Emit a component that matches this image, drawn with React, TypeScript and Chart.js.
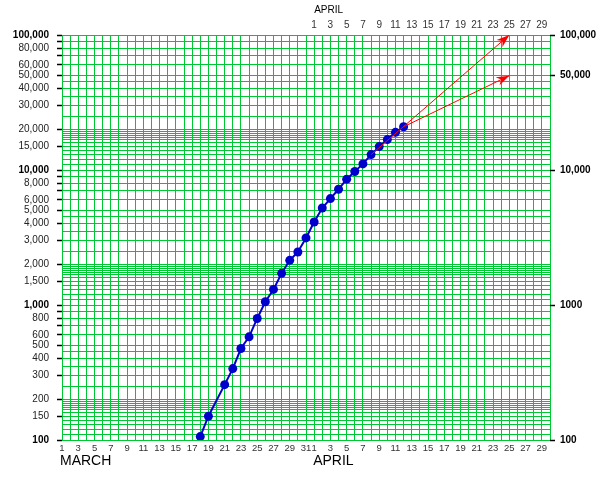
import React, { useEffect, useRef } from 'react';
import { Chart, registerables } from 'chart.js';

Chart.register(...registerables);

// ---- data ----
const marchDataDays = [18, 19, 21, 22, 23, 24, 25, 26, 27, 28, 29, 30, 31];
const marchValues = [106, 150, 257, 338, 476, 581, 795, 1057, 1304, 1715, 2142, 2470, 3140];
const aprilDataDays = [1, 2, 3, 4, 5, 6, 7, 8, 9, 10, 11, 12];
const aprilValues = [4120, 5230, 6140, 7200, 8550, 9750, 11100, 13000, 14900, 16800, 19000, 20900];

// projection arrows (April days / values)
const arrowUpperDays = [8, 25];
const arrowUpperValues = [13000, 100000];
const arrowLowerDays = [12, 25];
const arrowLowerValues = [20900, 50000];

// ---- axis labels ----
const marchTickDays = [1, 3, 5, 7, 9, 11, 13, 15, 17, 19, 21, 23, 25, 27, 29, 31];
const aprilTickDays = [1, 3, 5, 7, 9, 11, 13, 15, 17, 19, 21, 23, 25, 27, 29];
const daysInMarch = 31;
const daysInApril = 30;

const leftTickValues = [100, 150, 200, 300, 400, 500, 600, 700, 800, 900,
  1000, 1500, 2000, 3000, 4000, 5000, 6000, 7000, 8000, 9000,
  10000, 15000, 20000, 30000, 40000, 50000, 60000, 70000, 80000, 90000, 100000];
const leftTickLabels = ['100', '150', '200', '300', '400', '500', '600', '', '800', '',
  '1,000', '1,500', '2,000', '3,000', '4,000', '5,000', '6,000', '', '8,000', '',
  '10,000', '15,000', '20,000', '30,000', '40,000', '50,000', '60,000', '', '80,000', '', '100,000'];
const boldLeftValues = [100, 1000, 10000, 100000];

const rightTickValues = [100, 1000, 10000, 50000, 100000];
const rightTickLabels = ['100', '1000', '10,000', '50,000', '100,000'];

const gridMantissas = [1, 1.1, 1.2, 1.3, 1.4, 1.5, 1.6, 1.67, 1.73, 1.8, 1.87, 1.93,
  2, 2.5, 3, 3.5, 4, 4.5, 5, 6, 7, 8, 9];
const gridDecades = [100, 1000, 10000];
const yMin = 100;
const yMax = 100000;

const marchText = 'MARCH';
const aprilText = 'APRIL';

// ---- derived helpers ----
const aprilX = (d: number) => daysInMarch + d;
const totalDays = daysInMarch + daysInApril;
const allDayPositions: number[] = [];
for (let i = 1; i <= totalDays; i++) allDayPositions.push(i);
const gridValues: number[] = [];
gridDecades.forEach((d) => gridMantissas.forEach((m) => gridValues.push(Math.round(d * m))));
gridValues.push(yMax);

const bottomLabelMap = new Map<number, string>();
marchTickDays.forEach((d) => bottomLabelMap.set(d, String(d)));
aprilTickDays.forEach((d) => bottomLabelMap.set(aprilX(d), String(d)));

const GREEN = '#00c832';
const BLUE = '#0000cc';
const RED = '#ff0000';
const FONT = "'Liberation Sans', Arial, sans-serif";

const arrowHeadPlugin = {
  id: 'arrowHeads',
  afterDatasetsDraw(chart: any) {
    const ctx = chart.ctx;
    chart.data.datasets.forEach((ds: any, i: number) => {
      if (!ds.isArrow) return;
      const pts = chart.getDatasetMeta(i).data;
      if (pts.length < 2) return;
      const a = pts[pts.length - 2];
      const b = pts[pts.length - 1];
      const ang = Math.atan2(b.y - a.y, b.x - a.x);
      const len = 13;
      const half = 4.5;
      ctx.save();
      ctx.translate(b.x, b.y);
      ctx.rotate(ang);
      ctx.fillStyle = RED;
      ctx.beginPath();
      ctx.moveTo(0, 0);
      ctx.lineTo(-len, -half);
      ctx.lineTo(-len * 0.7, 0);
      ctx.lineTo(-len, half);
      ctx.closePath();
      ctx.fill();
      ctx.restore();
    });
  },
};

const monthTextPlugin = {
  id: 'monthText',
  afterDraw(chart: any) {
    const ctx = chart.ctx;
    const x = chart.scales.x;
    ctx.save();
    ctx.fillStyle = '#000';
    ctx.textBaseline = 'middle';
    ctx.textAlign = 'left';
    ctx.font = `14px ${FONT}`;
    ctx.fillText(marchText, x.getPixelForValue(1) - 2, 461);
    ctx.fillText(aprilText, x.getPixelForValue(aprilX(1)) - 1, 461);
    ctx.font = `10px ${FONT}`;
    ctx.fillText(aprilText, x.getPixelForValue(aprilX(1)), 10.5);
    ctx.restore();
  },
};

export default function App() {
  const ref = useRef<HTMLCanvasElement>(null);

  useEffect(() => {
    if (!ref.current) return;
    const mainData = [
      ...marchDataDays.map((d, i) => ({ x: d, y: marchValues[i] })),
      ...aprilDataDays.map((d, i) => ({ x: aprilX(d), y: aprilValues[i] })),
    ];
    const upper = arrowUpperDays.map((d, i) => ({ x: aprilX(d), y: arrowUpperValues[i] }));
    const lower = arrowLowerDays.map((d, i) => ({ x: aprilX(d), y: arrowLowerValues[i] }));

    const chart = new Chart(ref.current, {
      type: 'line',
      data: {
        datasets: [
          { data: upper, borderColor: RED, borderWidth: 1, pointRadius: 0, isArrow: true, order: 0 } as any,
          { data: lower, borderColor: RED, borderWidth: 1, pointRadius: 0, isArrow: true, order: 0 } as any,
          {
            data: mainData,
            borderColor: BLUE,
            borderWidth: 2,
            pointRadius: 4.5,
            pointBackgroundColor: BLUE,
            pointBorderWidth: 0,
            order: 1,
          },
        ],
      },
      options: {
        responsive: false,
        animation: false,
        events: [],
        layout: { padding: 0 },
        plugins: { legend: { display: false }, tooltip: { enabled: false }, title: { display: false } },
        scales: {
          x: {
            type: 'linear',
            position: 'bottom',
            min: 1,
            max: totalDays,
            afterBuildTicks: (s: any) => { s.ticks = allDayPositions.map((v) => ({ value: v })); },
            afterFit: (s: any) => { s.height = 40; },
            grid: { color: GREEN, lineWidth: 1, drawTicks: false },
            border: { display: false },
            ticks: {
              autoSkip: false, maxRotation: 0, minRotation: 0, padding: 2.5, color: '#333',
              font: { family: FONT, size: 9.5 },
              callback: (v: any) => bottomLabelMap.get(Number(v)) ?? '',
            },
          },
          x2: {
            type: 'linear',
            position: 'top',
            min: 1,
            max: totalDays,
            afterBuildTicks: (s: any) => { s.ticks = aprilTickDays.map((d) => ({ value: aprilX(d) })); },
            afterFit: (s: any) => { s.height = 35; },
            grid: { drawOnChartArea: false, drawTicks: false },
            border: { display: false },
            ticks: {
              autoSkip: false, maxRotation: 0, minRotation: 0, padding: 4, color: '#333',
              font: { family: FONT, size: 10 },
              callback: (v: any) => String(Number(v) - daysInMarch),
            },
          },
          y: {
            type: 'logarithmic',
            position: 'left',
            min: yMin,
            max: yMax,
            afterBuildTicks: (s: any) => { s.ticks = gridValues.map((v) => ({ value: v })); },
            afterFit: (s: any) => { s.width = 62; },
            grid: {
              color: GREEN,
              lineWidth: 1,
              drawTicks: true,
              tickLength: 5,
              tickWidth: 1.5,
              tickColor: (c: any) => (c.tick && leftTickValues.includes(c.tick.value) ? '#000' : 'rgba(0,0,0,0)'),
            },
            border: { display: false },
            ticks: {
              autoSkip: false, padding: 8,
              color: (c: any) => (c.tick && boldLeftValues.includes(c.tick.value) ? '#000' : '#222'),
              font: (c: any) => ({
                family: FONT, size: 10,
                weight: c.tick && boldLeftValues.includes(c.tick.value) ? 'bold' : 'normal',
              }),
              callback: (v: any) => {
                const idx = leftTickValues.indexOf(Number(v));
                return idx >= 0 ? leftTickLabels[idx] : '';
              },
            },
          },
          y2: {
            type: 'logarithmic',
            position: 'right',
            min: yMin,
            max: yMax,
            afterBuildTicks: (s: any) => { s.ticks = rightTickValues.map((v) => ({ value: v })); },
            afterFit: (s: any) => { s.width = 52; },
            grid: { drawOnChartArea: false, drawTicks: true, tickLength: 5, tickWidth: 1.5, tickColor: '#000' },
            border: { display: false },
            ticks: {
              autoSkip: false, padding: 5, color: '#000',
              font: { family: FONT, size: 10, weight: 'bold' },
              callback: (v: any) => {
                const idx = rightTickValues.indexOf(Number(v));
                return idx >= 0 ? rightTickLabels[idx] : '';
              },
            },
          },
        },
      } as any,
      plugins: [arrowHeadPlugin, monthTextPlugin],
    });
    return () => chart.destroy();
  }, []);

  return (
    <div style={{ position: 'absolute', left: 0, top: 0, width: 602, height: 480, background: '#fff' }}>
      <canvas ref={ref} width={602} height={480} style={{ display: 'block' }} />
    </div>
  );
}
